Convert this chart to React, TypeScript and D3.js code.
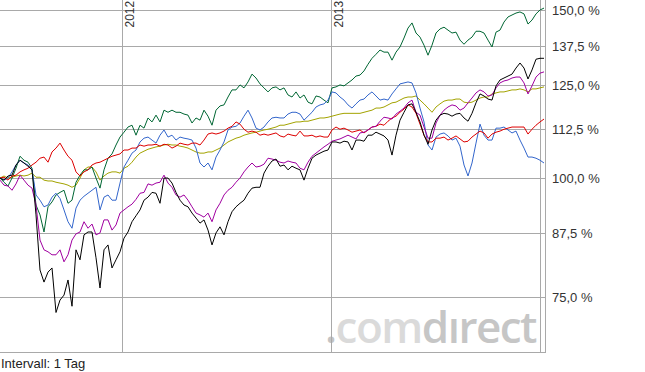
import React from 'react';
import * as d3 from 'd3';

const START = new Date(2011, 5, 1);
const END = new Date(2014, 0, 8);
const DATES: Date[] = d3.timeDay.range(START, d3.timeDay.offset(END, 1), 7);

const GREEN = [
  100.0, 99.0, 98.1, 100.0, 102.4, 105.4, 104.4, 103.9, 102.4, 93.7,
  91.5, 87.8, 93.3, 94.4, 96.0, 96.6, 97.1, 94.1, 94.8, 99.0,
  100.7, 102.0, 102.0, 102.7, 100.0, 97.6, 102.0, 104.9, 106.0, 108.3,
  110.4, 111.7, 113.1, 113.6, 110.9, 113.6, 112.8, 115.6, 114.5, 116.4,
  114.5, 117.8, 117.2, 117.8, 117.2, 117.2, 116.7, 116.4, 114.2, 115.6,
  115.0, 117.8, 116.1, 113.6, 117.8, 119.0, 119.3, 121.6, 123.7, 123.7,
  125.2, 124.3, 126.1, 128.5, 127.3, 125.5, 124.3, 123.1, 124.3, 124.6,
  123.7, 124.3, 122.2, 121.6, 123.1, 121.3, 122.2, 120.1, 119.6, 121.9,
  121.6, 120.7, 119.9, 124.3, 124.6, 125.2, 124.9, 125.8, 126.7, 127.9,
  128.2, 129.5, 131.6, 133.5, 134.8, 136.2, 135.5, 135.5, 132.9, 135.5,
  137.2, 140.2, 143.6, 145.4, 141.9, 140.5, 137.8, 134.5, 137.8, 141.9,
  143.3, 143.9, 142.9, 141.9, 142.2, 139.5, 138.1, 139.5, 140.5, 142.5,
  142.5, 141.9, 139.5, 137.2, 142.2, 142.9, 145.7, 147.5, 148.2, 148.9,
  149.3, 148.6, 145.0, 146.4, 148.6, 150.0, 150.7,
];

const BLUE = [
  100.0, 99.5, 100.0, 101.5, 103.2, 104.4, 103.7, 103.2, 102.0, 96.0,
  94.8, 93.3, 93.7, 95.5, 96.4, 95.2, 92.6, 90.0, 88.6, 93.0,
  94.8, 95.7, 96.4, 97.1, 97.8, 92.6, 95.5, 96.0, 94.8, 94.8,
  98.8, 102.7, 104.4, 106.2, 107.0, 109.1, 110.1, 110.4, 109.6, 108.8,
  110.9, 112.3, 110.4, 110.9, 109.6, 110.4, 110.1, 109.9, 109.6, 107.5,
  103.7, 102.7, 103.7, 102.0, 105.2, 107.0, 109.1, 112.3, 113.1, 113.3,
  114.2, 116.1, 117.8, 115.6, 112.8, 112.3, 113.1, 114.5, 115.6, 115.8,
  115.6, 115.6, 116.7, 117.2, 117.2, 116.7, 115.0, 116.1, 117.2, 118.7,
  119.3, 119.6, 120.7, 123.1, 122.8, 121.6, 120.7, 119.3, 118.4, 119.6,
  120.7, 121.0, 122.2, 123.1, 121.9, 120.7, 121.0, 120.7, 122.5, 124.0,
  125.5, 125.8, 126.1, 125.8, 122.8, 118.4, 114.5, 108.3, 107.0, 110.4,
  111.2, 111.5, 110.7, 109.6, 110.1, 108.0, 103.2, 100.5, 103.7, 108.8,
  113.9, 110.9, 109.6, 109.6, 112.8, 112.8, 113.1, 112.3, 111.5, 112.0,
  109.6, 107.5, 105.2, 105.2, 104.9, 104.4, 103.7,
];

const RED = [
  100.0, 100.2, 99.5, 100.5, 100.7, 101.5, 102.0, 102.4, 103.2, 103.9,
  104.9, 105.2, 103.9, 106.5, 107.5, 108.8, 107.0, 105.4, 104.4, 101.5,
  100.5, 101.5, 102.0, 103.2, 103.7, 103.9, 104.4, 104.9, 105.4, 105.7,
  106.0, 107.0, 107.0, 107.5, 107.5, 108.3, 108.0, 108.3, 108.3, 108.5,
  108.0, 108.5, 108.3, 107.5, 108.0, 108.8, 108.5, 108.3, 108.8, 108.8,
  108.3, 109.6, 111.2, 111.5, 111.2, 111.5, 112.0, 112.8, 113.3, 114.5,
  113.9, 112.5, 111.7, 112.0, 111.7, 110.9, 111.2, 110.9, 111.2, 111.5,
  110.7, 110.4, 111.2, 110.9, 110.7, 112.0, 110.7, 110.7, 110.9, 110.4,
  110.7, 110.4, 110.4, 112.3, 113.1, 112.5, 112.8, 112.3, 111.7, 112.0,
  112.3, 111.5, 112.3, 113.1, 113.3, 113.9, 113.6, 114.7, 115.6, 116.1,
  117.2, 118.1, 119.3, 118.7, 116.9, 113.9, 110.9, 109.1, 109.1, 110.1,
  110.1, 110.4, 109.6, 110.1, 110.7, 109.9, 109.1, 109.3, 110.4, 111.2,
  112.0, 111.5, 110.1, 111.2, 111.7, 112.0, 112.5, 112.8, 113.1, 113.1,
  113.1, 113.1, 111.2, 112.5, 113.6, 114.5, 115.3,
];

const OLIVE = [
  100.0, 100.5, 100.0, 100.2, 100.5, 100.7, 100.5, 100.7, 101.2, 100.2,
  100.2, 99.5, 99.3, 99.3, 99.0, 98.8, 98.6, 98.3, 97.8, 98.3,
  100.0, 102.0, 102.7, 102.7, 101.5, 99.5, 100.5, 101.2, 101.5, 101.5,
  101.2, 102.4, 102.9, 103.9, 105.2, 106.2, 106.7, 107.2, 107.5, 107.8,
  108.0, 108.3, 108.5, 108.3, 108.3, 108.0, 107.8, 107.5, 107.0, 106.5,
  106.2, 106.2, 106.5, 106.5, 107.0, 107.5, 108.3, 109.1, 109.6, 110.1,
  110.4, 110.9, 111.2, 111.5, 111.7, 112.0, 112.3, 112.5, 112.8, 113.1,
  113.6, 113.6, 113.9, 114.2, 114.5, 114.5, 114.7, 114.7, 115.0, 115.3,
  115.6, 115.6, 115.8, 116.1, 116.4, 116.7, 116.9, 116.9, 116.9, 116.9,
  116.9, 117.2, 117.5, 117.8, 118.4, 118.4, 118.7, 119.3, 119.9, 120.1,
  120.7, 121.3, 121.6, 121.6, 121.9, 120.7, 119.6, 118.4, 117.2, 118.7,
  119.6, 120.4, 120.7, 120.7, 121.0, 121.0, 120.1, 119.9, 120.1, 120.7,
  121.3, 121.6, 121.6, 122.5, 122.8, 123.1, 123.1, 123.4, 123.7, 123.7,
  124.0, 123.7, 123.1, 124.0, 124.0, 124.3, 124.6,
];

const PURPLE = [
  99.5, 98.3, 98.1, 97.1, 98.6, 100.7, 99.5, 98.3, 97.6, 93.7,
  86.1, 84.1, 83.7, 83.1, 83.1, 84.1, 81.7, 83.1, 86.1, 87.4,
  87.8, 90.0, 88.6, 89.5, 87.2, 87.6, 90.4, 90.4, 88.2, 89.3,
  91.9, 92.6, 93.3, 93.9, 95.0, 96.4, 96.6, 98.6, 98.3, 98.8,
  99.0, 100.7, 98.8, 97.8, 96.0, 95.5, 96.0, 94.8, 93.3, 91.9,
  91.5, 91.0, 91.9, 90.0, 92.6, 94.1, 96.0, 97.1, 97.8, 99.0,
  100.0, 101.5, 102.7, 103.7, 102.7, 102.9, 103.4, 104.9, 104.7, 104.4,
  103.9, 103.7, 104.2, 103.9, 103.7, 102.4, 102.0, 103.9, 105.4, 106.2,
  107.0, 107.8, 108.5, 109.3, 109.6, 109.9, 110.4, 110.9, 110.4, 109.9,
  111.5, 111.7, 112.3, 113.1, 113.3, 114.7, 115.8, 115.6, 115.3, 116.7,
  117.5, 118.4, 119.9, 120.7, 117.2, 116.4, 113.1, 110.1, 110.1, 114.2,
  116.4, 117.8, 118.7, 119.3, 119.0, 117.8, 118.4, 119.9, 121.3, 122.8,
  123.7, 123.1, 121.9, 122.2, 124.3, 125.8, 126.4, 126.7, 127.3, 127.6,
  127.6, 125.8, 122.5, 124.9, 127.6, 128.8, 129.2,
];

const BLACK = [
  100.0, 99.5, 100.5, 100.7, 103.2, 104.4, 103.7, 102.9, 102.0, 91.5,
  80.1, 77.8, 79.7, 80.5, 72.3, 74.5, 75.4, 78.2, 73.4, 84.1,
  82.1, 87.2, 87.8, 87.8, 82.5, 76.7, 84.1, 85.1, 80.5, 82.1,
  83.7, 86.5, 87.8, 90.0, 91.3, 92.6, 94.8, 95.5, 96.6, 96.4,
  94.1, 100.0, 100.0, 98.8, 96.6, 94.8, 93.7, 93.3, 91.9, 90.8,
  89.7, 90.4, 88.2, 85.1, 87.6, 88.9, 87.2, 90.0, 92.2, 93.3,
  94.1, 94.8, 96.4, 97.6, 97.8, 97.8, 101.2, 102.9, 104.2, 104.7,
  102.9, 103.2, 102.0, 102.9, 102.4, 102.0, 99.5, 102.4, 104.9, 105.7,
  106.2, 106.7, 107.0, 109.1, 109.1, 108.8, 109.3, 109.1, 107.0, 109.6,
  109.6, 109.3, 110.9, 110.9, 111.7, 111.2, 110.7, 109.6, 105.7, 110.9,
  115.0, 117.2, 119.3, 119.6, 117.2, 114.5, 110.9, 108.5, 112.3, 115.0,
  116.4, 116.9, 116.7, 116.1, 116.7, 116.9, 115.6, 114.7, 116.9, 119.9,
  122.5, 121.9, 121.0, 120.7, 124.9, 126.7, 127.3, 127.9, 128.5, 130.4,
  132.0, 130.4, 127.0, 129.8, 133.2, 133.5, 133.5,
];

const SERIES = [
  { key: 'olive', color: '#a3a300', values: OLIVE },
  { key: 'green', color: '#006633', values: GREEN },
  { key: 'blue', color: '#3366cc', values: BLUE },
  { key: 'red', color: '#dd0000', values: RED },
  { key: 'purple', color: '#a000a0', values: PURPLE },
  { key: 'black', color: '#000000', values: BLACK },
];

const Y_TICKS = [150, 137.5, 125, 112.5, 100, 87.5, 75];
const YEAR_LINES = [new Date(2012, 0, 1), new Date(2013, 0, 1), new Date(2014, 0, 1)];
const YEAR_LABELS = ['2012', '2013', ''];

const W = 645;
const H = 372;
const PLOT_R = 546;
const PLOT_B = 352;

const deLocale = d3.formatLocale({ decimal: ',', thousands: '.', grouping: [3], currency: ['', ' €'] });
const fmt = deLocale.format('.1f');

export default function App() {
  const x = d3.scaleTime().domain([START, END]).range([0, 544]);
  const y = d3.scaleLog().domain([75, 150]).range([297.3, 10]);
  const line = d3
    .line<number>()
    .x((_, i) => x(DATES[i]))
    .y((d) => y(d));

  const font = '"Liberation Sans", Arial, Helvetica, sans-serif';
  const grid = '#a9a9a9';

  return (
    <svg
      width={W}
      height={H}
      style={{ position: 'absolute', left: 0, top: 0, background: '#fff' }}
      xmlns="http://www.w3.org/2000/svg"
    >
      <defs>
        <clipPath id="plotclip">
          <rect x={0} y={0} width={PLOT_R} height={PLOT_B} />
        </clipPath>
      </defs>
      <rect x={0} y={0} width={W} height={H} fill="#fff" />

      {/* watermark */}
      <text
        x={325}
        y={343}
        fontFamily='"Open Sans", "Noto Sans", sans-serif'
        fontWeight={600}
        fontSize={44}
        letterSpacing={-1.5}
      >
        <tspan fill="#c4c4c4">.</tspan>
        <tspan fill="#dadada">com</tspan>
        <tspan fill="#c6c6c6">dırect</tspan>
      </text>

      {/* horizontal grid */}
      {Y_TICKS.map((v) => {
        const yy = Math.floor(y(v)) + 0.5;
        return <line key={'h' + v} x1={0} x2={PLOT_R} y1={yy} y2={yy} stroke={grid} strokeWidth={1} />;
      })}
      {/* vertical year lines */}
      {YEAR_LINES.map((d, i) => {
        const xx = Math.floor(x(d)) + 0.5;
        return (
          <g key={'v' + i}>
            <line x1={xx} x2={xx} y1={0} y2={PLOT_B} stroke={grid} strokeWidth={1} />
            {YEAR_LABELS[i] ? (
              <text
                transform={`translate(${xx + 11.5},27.5) rotate(-90)`}
                fontFamily={font}
                fontSize={12}
                fill="#333"
              >
                {YEAR_LABELS[i]}
              </text>
            ) : null}
          </g>
        );
      })}
      {/* borders */}
      <line x1={PLOT_R - 0.5} x2={PLOT_R - 0.5} y1={0} y2={PLOT_B + 1} stroke={grid} strokeWidth={1} />
      <line x1={0} x2={PLOT_R} y1={PLOT_B + 0.5} y2={PLOT_B + 0.5} stroke={grid} strokeWidth={1} />

      {/* series */}
      <g clipPath="url(#plotclip)">
        {SERIES.map((s) => (
          <path key={s.key} d={line(s.values) || ''} fill="none" stroke={s.color} strokeWidth={1} />
        ))}
      </g>

      {/* y labels */}
      {Y_TICKS.map((v) => (
        <text key={'l' + v} x={552} y={y(v) + 4.5} fontFamily={font} fontSize={13} fill="#333">
          {fmt(v) + ' %'}
        </text>
      ))}

      <text x={1} y={368} fontFamily={font} fontSize={13} fill="#222">
        Intervall: 1 Tag
      </text>
    </svg>
  );
}
